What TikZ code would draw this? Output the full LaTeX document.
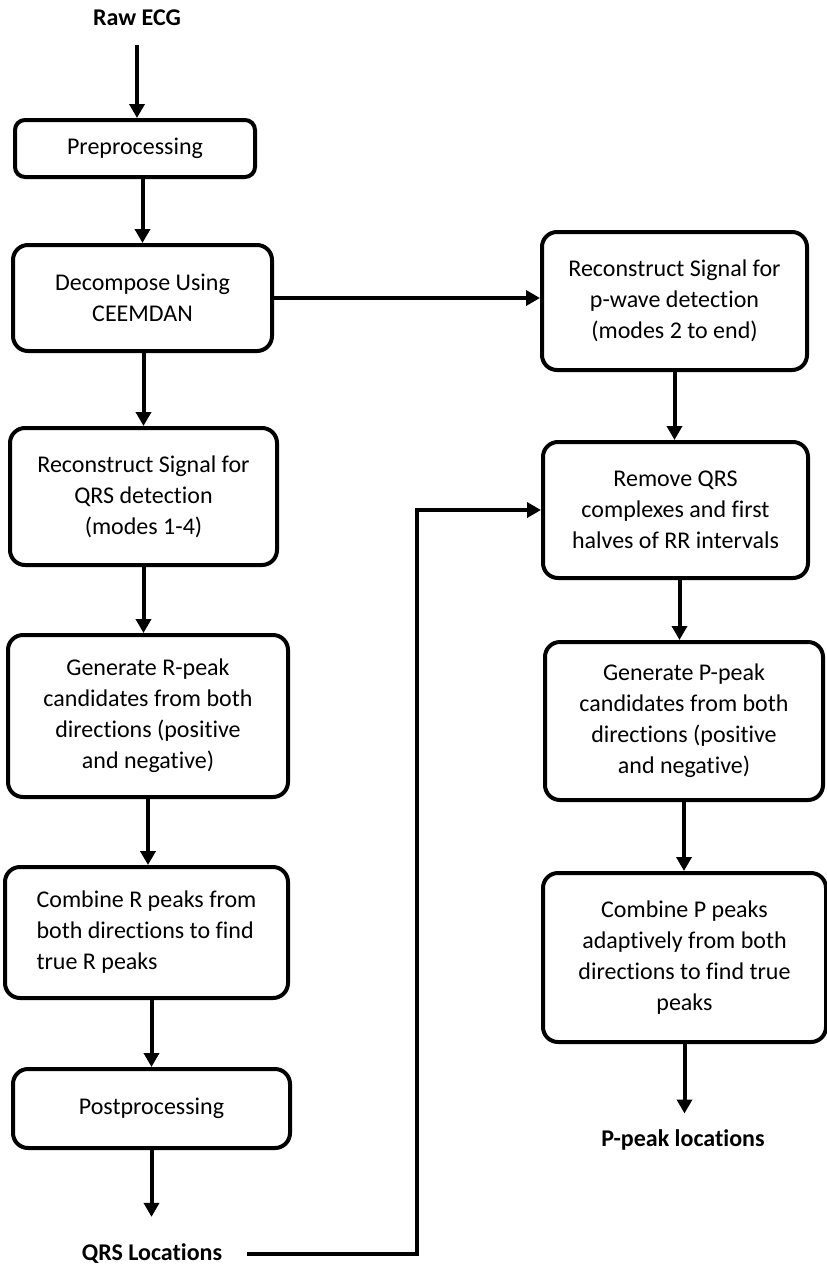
\documentclass[tikz,border=0pt]{standalone}
\usepackage{fontspec}
\setmainfont{Carlito}[Ligatures=NoCommon]
\usetikzlibrary{arrows.meta}
\begin{document}
\begin{tikzpicture}[x=1pt,y=-1pt,
  box/.style={draw, line width=4pt, rounded corners=15pt, align=center, inner sep=0pt, font=\fontsize{24}{31}\selectfont},
  arr/.style={line width=4pt, -{Triangle[length=14pt,width=15pt]}},
  lbl/.style={font=\fontsize{24}{31}\selectfont\bfseries, inner sep=0pt}]
\useasboundingbox (0,0) rectangle (827,1267);
% left column
\node[lbl] (raw) at (137,18) {Raw ECG};
\node[box, rounded corners=10pt, minimum width=240pt, minimum height=57pt] (pre) at (135,148.5) {Preprocessing};
\node[box, minimum width=259pt, minimum height=106pt] (dec) at (142.5,298) {Decompose Using\\CEEMDAN};
\node[box, minimum width=267pt, minimum height=137pt] (qrs) at (143.5,496.5) {Reconstruct Signal for\\QRS detection\\(modes 1-4)};
\node[box, minimum width=280pt, minimum height=162pt] (rgen) at (148,716) {Generate R-peak\\candidates from both\\directions (positive\\and negative)};
\node[box, minimum width=283pt, minimum height=131pt, align=left] (rcomb) at (146.5,932.5) {Combine R peaks from\\both directions to find\\true R peaks};
\node[box, minimum width=277pt, minimum height=79pt] (post) at (151.5,1108.5) {Postprocessing};
\node[lbl] (qrsloc) at (152,1254) {QRS Locations};
% right column
\node[box, minimum width=265pt, minimum height=138pt] (pw) at (674.5,301) {Reconstruct Signal for\\p-wave detection\\(modes 2 to end)};
\node[box, minimum width=265pt, minimum height=136pt] (rem) at (675.5,510) {Remove QRS\\complexes and first\\halves of RR intervals};
\node[box, minimum width=278pt, minimum height=158pt] (pgen) at (684,721) {Generate P-peak\\candidates from both\\directions (positive\\and negative)};
\node[box, minimum width=283pt, minimum height=169pt] (pcomb) at (684.5,957.5) {Combine P peaks\\adaptively from both\\directions to find true\\peaks};
\node[lbl] (ploc) at (683,1140) {P-peak locations};
\coordinate (fb) at (417,1254);
% connectors
\draw[arr, shorten <=19pt] (raw.south) -- (raw.south |- pre.north);
\draw[arr] (pre.south -| dec.north) -- (dec.north);
\draw[arr] (dec.south -| qrs.north) -- (qrs.north);
\draw[arr] (qrs.south) -- (qrs.south |- rgen.north);
\draw[arr] (rgen.south) -- (rgen.south |- rcomb.north);
\draw[arr] (rcomb.south -| post.north) -- (post.north);
\draw[arr, shorten >=27pt] (post.south) -- (post.south |- qrsloc.north);
\draw[arr] (dec.east) -- (dec.east -| pw.west);
\draw[arr] (pw.south) -- (pw.south |- rem.north);
\draw[arr] ([xshift=4pt]rem.south) -- ([xshift=4pt]rem.south |- pgen.north);
\draw[arr] (pgen.south) -- (pgen.south |- pcomb.north);
\draw[arr, shorten >=16pt] (pcomb.south) -- (pcomb.south |- ploc.north);
\draw[arr, shorten <=25pt] (qrsloc.east) -- (fb) |- (rem.west);
\end{tikzpicture}
\end{document}
